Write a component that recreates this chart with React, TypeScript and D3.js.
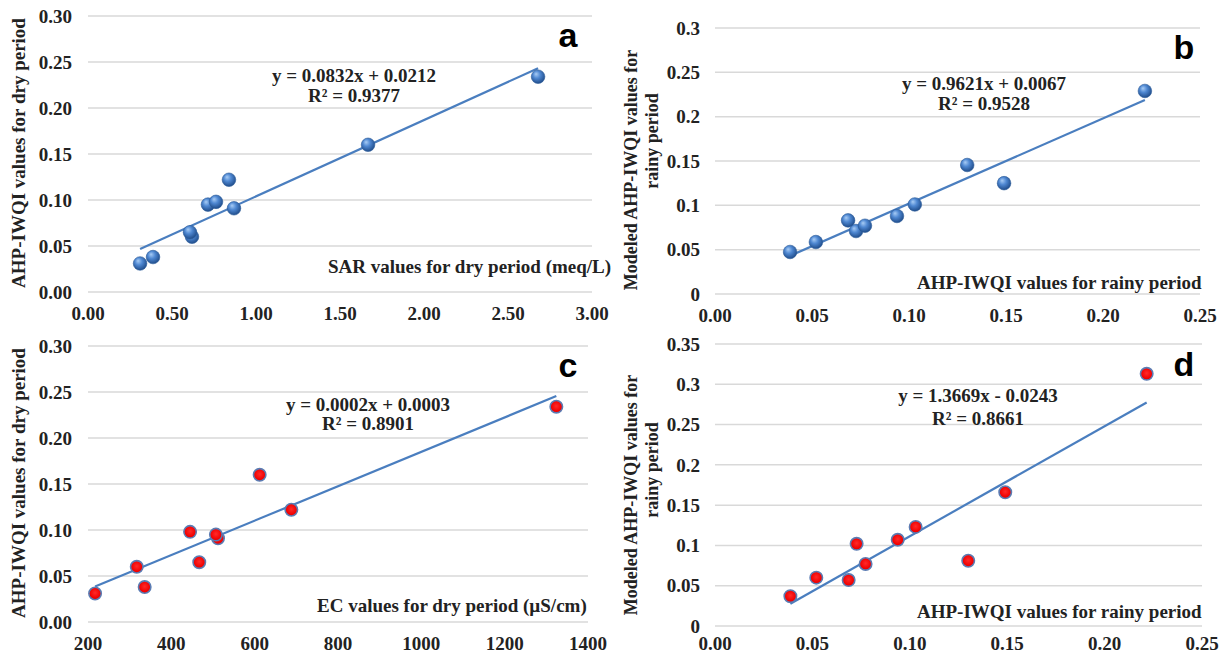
import React from 'react'
import * as d3 from 'd3'

// dry period, one entry per sampling point
const drySAR = [0.31, 0.387, 0.619, 0.607, 0.869, 0.714, 0.762, 0.839, 1.667, 2.679]
const dryEC = [217, 336, 317, 467, 512, 507, 445, 688, 612, 1324]
const dryIWQI = [0.031, 0.038, 0.06, 0.065, 0.091, 0.095, 0.098, 0.122, 0.16, 0.234]

// rainy period
const rainyIWQI = [0.0387, 0.052, 0.0686, 0.0727, 0.0773, 0.0938, 0.103, 0.13, 0.149, 0.2216]
const modeledB = [0.0474, 0.0586, 0.083, 0.071, 0.077, 0.088, 0.101, 0.1455, 0.125, 0.229]
const modeledD = [0.037, 0.06, 0.057, 0.102, 0.077, 0.107, 0.123, 0.081, 0.166, 0.313]

// tick values
const sarTicks = [0, 0.5, 1, 1.5, 2, 2.5, 3]
const ecTicks = [200, 400, 600, 800, 1000, 1200, 1400]
const rainyTicks = [0, 0.05, 0.1, 0.15, 0.2, 0.25]
const dryYTicks = [0, 0.05, 0.1, 0.15, 0.2, 0.25, 0.3]
const bYTicks = [0, 0.05, 0.1, 0.15, 0.2, 0.25, 0.3]
const dYTicks = [0, 0.05, 0.1, 0.15, 0.2, 0.25, 0.3, 0.35]

const equations = [
  ['y = 0.0832x + 0.0212', 'R² = 0.9377'],
  ['y = 0.9621x + 0.0067', 'R² = 0.9528'],
  ['y = 0.0002x + 0.0003', 'R² = 0.8901'],
  ['y = 1.3669x - 0.0243', 'R² = 0.8661'],
]

const SERIF = "'Liberation Serif', 'Times New Roman', serif"
const f2 = d3.format('.2f')
const fInt = d3.format('d')
const fGen = (v: number) => String(+v.toFixed(2))

function fit(xs: number[], ys: number[]) {
  const mx = d3.mean(xs)!
  const my = d3.mean(ys)!
  let sxy = 0
  let sxx = 0
  xs.forEach((x, i) => {
    sxy += (x - mx) * (ys[i] - my)
    sxx += (x - mx) * (x - mx)
  })
  const slope = sxy / sxx
  return { slope, intercept: my - slope * mx }
}

function Panel(p: any) {
  const x = d3.scaleLinear().domain(p.xDomain).range([p.x0, p.x1])
  const y = d3.scaleLinear().domain(p.yDomain).range([p.y1, p.y0])
  const { slope, intercept } = fit(p.xs, p.ys)
  const [xmin, xmax] = d3.extent(p.xs as number[]) as [number, number]
  const line = d3.line<number>().x(d => x(d)).y(d => y(slope * d + intercept))
  const fill = p.red ? 'url(#redBall)' : 'url(#blueBall)'

  return (
    <g>
      {p.yTicks.map((t: number) => (
        <g key={t}>
          <line x1={p.x0} x2={p.x1} y1={y(t)} y2={y(t)} stroke="#d9d9d9" strokeWidth={1.5} />
          <text x={p.yLabelX} y={y(t)} dy="0.35em" textAnchor="end" fontSize={19}>{p.yFmt(t)}</text>
        </g>
      ))}
      {p.xTicks.map((t: number) => (
        <text key={t} x={x(t)} y={p.xLabelY} dy="0.35em" textAnchor="middle" fontSize={19}>{p.xFmt(t)}</text>
      ))}
      <path d={line([xmin, xmax]) || ''} stroke="#4a7ebf" strokeWidth={2.2} fill="none" />
      {p.xs.map((v: number, i: number) => (
        <circle key={i} cx={x(v)} cy={y(p.ys[i])} r={p.red ? 6.2 : 6.8} fill={fill}
          stroke={p.red ? '#5b7cb3' : '#2a5a98'} strokeWidth={p.red ? 1.6 : 0.6} />
      ))}
      <text x={p.eq[0]} y={p.eq[1]} dy="0.35em" textAnchor="middle" fontSize={19}>{p.eqText[0]}</text>
      <text x={p.eq[0]} y={p.eq[2]} dy="0.35em" textAnchor="middle" fontSize={19}>{p.eqText[1]}</text>
      <text x={p.xTitle[0]} y={p.xTitle[1]} dy="0.35em" fontSize={19}>{p.xTitleText}</text>
      {p.yTitle.map((l: any, i: number) => (
        <text key={i} transform={`translate(${l.x},${l.y}) rotate(-90)`} textAnchor="middle"
          fontSize={p.yTitleSize}>{l.text}</text>
      ))}
      <text x={p.letter[0]} y={p.letter[1]} dy="0.35em" textAnchor="middle" fontSize={34}
        fontFamily="'Liberation Sans', Arial, sans-serif" fontWeight="bold" fill="#000">{p.letterText}</text>
    </g>
  )
}

export default function App() {
  return (
    <svg width={1229} height={655} style={{ position: 'absolute', left: 0, top: 0, background: '#fff' }}
      fontFamily={SERIF} fontWeight="bold" fill="#222">
      <defs>
        <radialGradient id="blueBall" cx="45%" cy="40%" r="60%" fx="35%" fy="30%">
          <stop offset="0%" stopColor="#a8ccf5" />
          <stop offset="45%" stopColor="#4f88d2" />
          <stop offset="100%" stopColor="#1f4c8a" />
        </radialGradient>
        <radialGradient id="redBall" cx="50%" cy="45%" r="55%">
          <stop offset="0%" stopColor="#ff2a2a" />
          <stop offset="80%" stopColor="#f00000" />
          <stop offset="100%" stopColor="#c00010" />
        </radialGradient>
      </defs>
      <Panel xs={drySAR} ys={dryIWQI} xDomain={[0, 3]} yDomain={[0, 0.3]}
        x0={88} x1={592} y0={16} y1={292} xTicks={sarTicks} yTicks={dryYTicks}
        xFmt={f2} yFmt={f2} yLabelX={72} xLabelY={313}
        eq={[354, 75, 95]} eqText={equations[0]}
        xTitle={[328, 266]} xTitleText="SAR values for dry period (meq/L)"
        yTitle={[{ x: 25, y: 153, text: 'AHP-IWQI values for dry period' }]} yTitleSize={19}
        letter={[568, 35]} letterText="a" />
      <Panel xs={rainyIWQI} ys={modeledB} xDomain={[0, 0.25]} yDomain={[0, 0.3]}
        x0={715} x1={1200} y0={28} y1={294} xTicks={rainyTicks} yTicks={bYTicks}
        xFmt={f2} yFmt={fGen} yLabelX={700} xLabelY={315}
        eq={[984, 83, 103]} eqText={equations[1]}
        xTitle={[917, 282]} xTitleText="AHP-IWQI values for rainy period"
        yTitle={[{ x: 637, y: 170, text: 'Modeled AHP-IWQI values for' }, { x: 658, y: 141, text: 'rainy period' }]}
        yTitleSize={18}
        letter={[1184, 47]} letterText="b" />
      <Panel xs={dryEC} ys={dryIWQI} xDomain={[200, 1400]} yDomain={[0, 0.3]}
        x0={88} x1={588} y0={346} y1={622} xTicks={ecTicks} yTicks={dryYTicks}
        xFmt={fInt} yFmt={f2} yLabelX={72} xLabelY={643} red
        eq={[368, 404, 423]} eqText={equations[2]}
        xTitle={[317, 605]} xTitleText="EC values for dry period (µS/cm)"
        yTitle={[{ x: 25, y: 483, text: 'AHP-IWQI values for dry period' }]} yTitleSize={19}
        letter={[568, 365]} letterText="c" />
      <Panel xs={rainyIWQI} ys={modeledD} xDomain={[0, 0.25]} yDomain={[0, 0.35]}
        x0={715} x1={1202} y0={344} y1={626} xTicks={rainyTicks} yTicks={dYTicks}
        xFmt={f2} yFmt={fGen} yLabelX={700} xLabelY={643} red
        eq={[978, 395, 418]} eqText={equations[3]}
        xTitle={[917, 611]} xTitleText="AHP-IWQI values for rainy period"
        yTitle={[{ x: 637, y: 495, text: 'Modeled AHP-IWQI values for' }, { x: 658, y: 470, text: 'rainy period' }]}
        yTitleSize={18}
        letter={[1184, 364]} letterText="d" />
    </svg>
  )
}
